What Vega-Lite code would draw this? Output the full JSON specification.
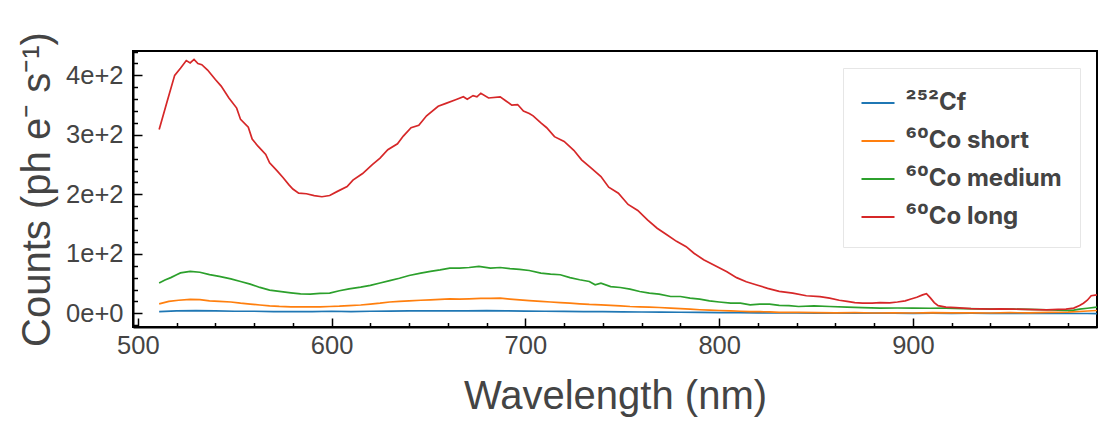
{
  "$schema": "https://vega.github.io/schema/vega-lite/v6.json",
  "width": 964,
  "height": 276,
  "autosize": {"type": "none"},
  "padding": {"left": 133, "top": 51, "right": 8, "bottom": 98},
  "background": "white",
  "config": {
    "font": "Liberation Sans",
    "view": {"stroke": "#000000", "strokeWidth": 2},
    "axis": {"labelFont": "Liberation Sans", "titleFont": "Liberation Sans", "labelColor": "#444444", "titleColor": "#444444", "titleFontWeight": "normal", "tickColor": "#000000", "domainColor": "#000000", "domainWidth": 2, "tickWidth": 1.5, "grid": false}
  },
  "data": {"values": [
    {"series":"²⁵²Cf","x":511,"y":3},{"series":"²⁵²Cf","x":520,"y":4},{"series":"²⁵²Cf","x":530,"y":4.5},{"series":"²⁵²Cf","x":540,"y":4},{"series":"²⁵²Cf","x":550,"y":3.5},{"series":"²⁵²Cf","x":560,"y":3.5},{"series":"²⁵²Cf","x":570,"y":3},{"series":"²⁵²Cf","x":580,"y":2.8},{"series":"²⁵²Cf","x":590,"y":3},{"series":"²⁵²Cf","x":600,"y":3.5},{"series":"²⁵²Cf","x":610,"y":3},{"series":"²⁵²Cf","x":620,"y":3.5},{"series":"²⁵²Cf","x":630,"y":3.8},{"series":"²⁵²Cf","x":640,"y":4},{"series":"²⁵²Cf","x":650,"y":4},{"series":"²⁵²Cf","x":660,"y":4},{"series":"²⁵²Cf","x":670,"y":4.2},{"series":"²⁵²Cf","x":680,"y":4.5},{"series":"²⁵²Cf","x":690,"y":4},{"series":"²⁵²Cf","x":700,"y":3.8},{"series":"²⁵²Cf","x":710,"y":3.5},{"series":"²⁵²Cf","x":720,"y":3.2},{"series":"²⁵²Cf","x":730,"y":3},{"series":"²⁵²Cf","x":740,"y":2.8},{"series":"²⁵²Cf","x":750,"y":2.5},{"series":"²⁵²Cf","x":760,"y":2.2},{"series":"²⁵²Cf","x":770,"y":2},{"series":"²⁵²Cf","x":780,"y":1.8},{"series":"²⁵²Cf","x":790,"y":1.5},{"series":"²⁵²Cf","x":800,"y":1.3},{"series":"²⁵²Cf","x":810,"y":1},{"series":"²⁵²Cf","x":820,"y":0.8},{"series":"²⁵²Cf","x":830,"y":0.5},{"series":"²⁵²Cf","x":840,"y":0.5},{"series":"²⁵²Cf","x":850,"y":0.3},{"series":"²⁵²Cf","x":860,"y":0.3},{"series":"²⁵²Cf","x":870,"y":0.2},{"series":"²⁵²Cf","x":880,"y":0.3},{"series":"²⁵²Cf","x":890,"y":0.2},{"series":"²⁵²Cf","x":900,"y":0},{"series":"²⁵²Cf","x":910,"y":0.2},{"series":"²⁵²Cf","x":920,"y":0},{"series":"²⁵²Cf","x":930,"y":0.1},{"series":"²⁵²Cf","x":940,"y":0},{"series":"²⁵²Cf","x":950,"y":0},{"series":"²⁵²Cf","x":960,"y":-0.2},{"series":"²⁵²Cf","x":970,"y":0},{"series":"²⁵²Cf","x":980,"y":-0.3},{"series":"²⁵²Cf","x":990,"y":-0.3},{"series":"²⁵²Cf","x":995,"y":-0.5},
    {"series":"⁶⁰Co short","x":511,"y":16},{"series":"⁶⁰Co short","x":516,"y":20},{"series":"⁶⁰Co short","x":521,"y":22},{"series":"⁶⁰Co short","x":527,"y":23.5},{"series":"⁶⁰Co short","x":532,"y":23},{"series":"⁶⁰Co short","x":537,"y":21},{"series":"⁶⁰Co short","x":542,"y":20},{"series":"⁶⁰Co short","x":548,"y":19},{"series":"⁶⁰Co short","x":553,"y":17},{"series":"⁶⁰Co short","x":558,"y":15.5},{"series":"⁶⁰Co short","x":563,"y":14},{"series":"⁶⁰Co short","x":568,"y":12.6},{"series":"⁶⁰Co short","x":573,"y":11.6},{"series":"⁶⁰Co short","x":579,"y":11},{"series":"⁶⁰Co short","x":584,"y":10.8},{"series":"⁶⁰Co short","x":589,"y":11},{"series":"⁶⁰Co short","x":594,"y":11},{"series":"⁶⁰Co short","x":599,"y":11.5},{"series":"⁶⁰Co short","x":604,"y":12},{"series":"⁶⁰Co short","x":609,"y":13},{"series":"⁶⁰Co short","x":615,"y":14},{"series":"⁶⁰Co short","x":620,"y":15.5},{"series":"⁶⁰Co short","x":625,"y":17},{"series":"⁶⁰Co short","x":630,"y":19},{"series":"⁶⁰Co short","x":635,"y":20},{"series":"⁶⁰Co short","x":640,"y":21},{"series":"⁶⁰Co short","x":646,"y":22},{"series":"⁶⁰Co short","x":651,"y":22.7},{"series":"⁶⁰Co short","x":656,"y":23.5},{"series":"⁶⁰Co short","x":661,"y":24.4},{"series":"⁶⁰Co short","x":666,"y":24},{"series":"⁶⁰Co short","x":671,"y":24.4},{"series":"⁶⁰Co short","x":677,"y":25},{"series":"⁶⁰Co short","x":682,"y":25},{"series":"⁶⁰Co short","x":687,"y":25.6},{"series":"⁶⁰Co short","x":692,"y":24},{"series":"⁶⁰Co short","x":697,"y":22.7},{"series":"⁶⁰Co short","x":702,"y":21.5},{"series":"⁶⁰Co short","x":708,"y":20},{"series":"⁶⁰Co short","x":713,"y":19},{"series":"⁶⁰Co short","x":718,"y":18},{"series":"⁶⁰Co short","x":723,"y":17},{"series":"⁶⁰Co short","x":728,"y":16},{"series":"⁶⁰Co short","x":733,"y":15},{"series":"⁶⁰Co short","x":739,"y":14.3},{"series":"⁶⁰Co short","x":744,"y":13.5},{"series":"⁶⁰Co short","x":749,"y":12.5},{"series":"⁶⁰Co short","x":754,"y":11.5},{"series":"⁶⁰Co short","x":759,"y":11},{"series":"⁶⁰Co short","x":764,"y":10.5},{"series":"⁶⁰Co short","x":769,"y":9.8},{"series":"⁶⁰Co short","x":775,"y":8.7},{"series":"⁶⁰Co short","x":780,"y":7.8},{"series":"⁶⁰Co short","x":785,"y":7},{"series":"⁶⁰Co short","x":790,"y":6},{"series":"⁶⁰Co short","x":795,"y":5.3},{"series":"⁶⁰Co short","x":800,"y":4.7},{"series":"⁶⁰Co short","x":806,"y":4},{"series":"⁶⁰Co short","x":811,"y":3.5},{"series":"⁶⁰Co short","x":816,"y":3},{"series":"⁶⁰Co short","x":821,"y":2.7},{"series":"⁶⁰Co short","x":826,"y":2.3},{"series":"⁶⁰Co short","x":831,"y":1.5},{"series":"⁶⁰Co short","x":841,"y":1.5},{"series":"⁶⁰Co short","x":850,"y":1},{"series":"⁶⁰Co short","x":860,"y":0.8},{"series":"⁶⁰Co short","x":870,"y":1},{"series":"⁶⁰Co short","x":880,"y":0.5},{"series":"⁶⁰Co short","x":890,"y":0.8},{"series":"⁶⁰Co short","x":900,"y":0.5},{"series":"⁶⁰Co short","x":910,"y":1},{"series":"⁶⁰Co short","x":920,"y":0.6},{"series":"⁶⁰Co short","x":930,"y":0.8},{"series":"⁶⁰Co short","x":940,"y":0.5},{"series":"⁶⁰Co short","x":950,"y":1},{"series":"⁶⁰Co short","x":960,"y":0.8},{"series":"⁶⁰Co short","x":970,"y":1.5},{"series":"⁶⁰Co short","x":980,"y":2},{"series":"⁶⁰Co short","x":988,"y":3.5},{"series":"⁶⁰Co short","x":995,"y":4.7},
    {"series":"⁶⁰Co medium","x":511,"y":51},{"series":"⁶⁰Co medium","x":514,"y":56},{"series":"⁶⁰Co medium","x":517,"y":60},{"series":"⁶⁰Co medium","x":520,"y":65},{"series":"⁶⁰Co medium","x":522,"y":68},{"series":"⁶⁰Co medium","x":527,"y":70.4},{"series":"⁶⁰Co medium","x":532,"y":69},{"series":"⁶⁰Co medium","x":537,"y":65},{"series":"⁶⁰Co medium","x":542,"y":62},{"series":"⁶⁰Co medium","x":548,"y":58},{"series":"⁶⁰Co medium","x":553,"y":53.5},{"series":"⁶⁰Co medium","x":558,"y":49},{"series":"⁶⁰Co medium","x":563,"y":43.5},{"series":"⁶⁰Co medium","x":568,"y":39},{"series":"⁶⁰Co medium","x":573,"y":36.8},{"series":"⁶⁰Co medium","x":579,"y":34.5},{"series":"⁶⁰Co medium","x":584,"y":32.8},{"series":"⁶⁰Co medium","x":589,"y":32.3},{"series":"⁶⁰Co medium","x":594,"y":33.4},{"series":"⁶⁰Co medium","x":599,"y":34},{"series":"⁶⁰Co medium","x":604,"y":38},{"series":"⁶⁰Co medium","x":609,"y":41},{"series":"⁶⁰Co medium","x":615,"y":44},{"series":"⁶⁰Co medium","x":620,"y":47},{"series":"⁶⁰Co medium","x":625,"y":51},{"series":"⁶⁰Co medium","x":630,"y":55},{"series":"⁶⁰Co medium","x":635,"y":59},{"series":"⁶⁰Co medium","x":640,"y":63.6},{"series":"⁶⁰Co medium","x":646,"y":67.6},{"series":"⁶⁰Co medium","x":651,"y":70.4},{"series":"⁶⁰Co medium","x":656,"y":73},{"series":"⁶⁰Co medium","x":661,"y":76},{"series":"⁶⁰Co medium","x":666,"y":76},{"series":"⁶⁰Co medium","x":671,"y":77},{"series":"⁶⁰Co medium","x":676,"y":79},{"series":"⁶⁰Co medium","x":682,"y":76},{"series":"⁶⁰Co medium","x":687,"y":77},{"series":"⁶⁰Co medium","x":692,"y":75},{"series":"⁶⁰Co medium","x":697,"y":74},{"series":"⁶⁰Co medium","x":702,"y":72},{"series":"⁶⁰Co medium","x":708,"y":67.6},{"series":"⁶⁰Co medium","x":713,"y":66},{"series":"⁶⁰Co medium","x":718,"y":64.8},{"series":"⁶⁰Co medium","x":723,"y":60},{"series":"⁶⁰Co medium","x":728,"y":56.4},{"series":"⁶⁰Co medium","x":733,"y":53.5},{"series":"⁶⁰Co medium","x":736,"y":48},{"series":"⁶⁰Co medium","x":739,"y":50.8},{"series":"⁶⁰Co medium","x":744,"y":45},{"series":"⁶⁰Co medium","x":749,"y":43.4},{"series":"⁶⁰Co medium","x":754,"y":40.7},{"series":"⁶⁰Co medium","x":759,"y":36.7},{"series":"⁶⁰Co medium","x":764,"y":34},{"series":"⁶⁰Co medium","x":769,"y":32.3},{"series":"⁶⁰Co medium","x":775,"y":28.3},{"series":"⁶⁰Co medium","x":780,"y":28.3},{"series":"⁶⁰Co medium","x":785,"y":25.6},{"series":"⁶⁰Co medium","x":790,"y":24},{"series":"⁶⁰Co medium","x":795,"y":21},{"series":"⁶⁰Co medium","x":800,"y":19},{"series":"⁶⁰Co medium","x":806,"y":17},{"series":"⁶⁰Co medium","x":811,"y":17},{"series":"⁶⁰Co medium","x":816,"y":14.3},{"series":"⁶⁰Co medium","x":821,"y":15.5},{"series":"⁶⁰Co medium","x":826,"y":15.5},{"series":"⁶⁰Co medium","x":831,"y":13.5},{"series":"⁶⁰Co medium","x":836,"y":13},{"series":"⁶⁰Co medium","x":841,"y":11.5},{"series":"⁶⁰Co medium","x":849,"y":12.6},{"series":"⁶⁰Co medium","x":857,"y":11.5},{"series":"⁶⁰Co medium","x":866,"y":10.4},{"series":"⁶⁰Co medium","x":874,"y":9.5},{"series":"⁶⁰Co medium","x":883,"y":8.7},{"series":"⁶⁰Co medium","x":892,"y":8.9},{"series":"⁶⁰Co medium","x":900,"y":8.7},{"series":"⁶⁰Co medium","x":909,"y":8.5},{"series":"⁶⁰Co medium","x":917,"y":8.7},{"series":"⁶⁰Co medium","x":926,"y":8},{"series":"⁶⁰Co medium","x":935,"y":7.6},{"series":"⁶⁰Co medium","x":943,"y":7.3},{"series":"⁶⁰Co medium","x":952,"y":7},{"series":"⁶⁰Co medium","x":960,"y":6.5},{"series":"⁶⁰Co medium","x":969,"y":6},{"series":"⁶⁰Co medium","x":975,"y":5.5},{"series":"⁶⁰Co medium","x":979,"y":4.7},{"series":"⁶⁰Co medium","x":983,"y":5.5},{"series":"⁶⁰Co medium","x":986,"y":7},{"series":"⁶⁰Co medium","x":990,"y":8.5},{"series":"⁶⁰Co medium","x":995,"y":10.4},
    {"series":"⁶⁰Co long","x":511,"y":309},{"series":"⁶⁰Co long","x":515,"y":355},{"series":"⁶⁰Co long","x":519,"y":400},{"series":"⁶⁰Co long","x":522,"y":412},{"series":"⁶⁰Co long","x":525,"y":425},{"series":"⁶⁰Co long","x":527,"y":421},{"series":"⁶⁰Co long","x":529,"y":427},{"series":"⁶⁰Co long","x":531,"y":420},{"series":"⁶⁰Co long","x":533,"y":418},{"series":"⁶⁰Co long","x":536,"y":409},{"series":"⁶⁰Co long","x":540,"y":393},{"series":"⁶⁰Co long","x":543,"y":382},{"series":"⁶⁰Co long","x":547,"y":362},{"series":"⁶⁰Co long","x":551,"y":345},{"series":"⁶⁰Co long","x":553,"y":326},{"series":"⁶⁰Co long","x":557,"y":313},{"series":"⁶⁰Co long","x":559,"y":293},{"series":"⁶⁰Co long","x":562,"y":281},{"series":"⁶⁰Co long","x":566,"y":267},{"series":"⁶⁰Co long","x":568,"y":253},{"series":"⁶⁰Co long","x":572,"y":239},{"series":"⁶⁰Co long","x":575,"y":228},{"series":"⁶⁰Co long","x":578,"y":216},{"series":"⁶⁰Co long","x":580,"y":209},{"series":"⁶⁰Co long","x":583,"y":202},{"series":"⁶⁰Co long","x":587,"y":201},{"series":"⁶⁰Co long","x":591,"y":198},{"series":"⁶⁰Co long","x":595,"y":196},{"series":"⁶⁰Co long","x":599,"y":198},{"series":"⁶⁰Co long","x":603,"y":205},{"series":"⁶⁰Co long","x":608,"y":213},{"series":"⁶⁰Co long","x":611,"y":224},{"series":"⁶⁰Co long","x":616,"y":235},{"series":"⁶⁰Co long","x":621,"y":250},{"series":"⁶⁰Co long","x":625,"y":261},{"series":"⁶⁰Co long","x":629,"y":275},{"series":"⁶⁰Co long","x":634,"y":285},{"series":"⁶⁰Co long","x":637,"y":298},{"series":"⁶⁰Co long","x":641,"y":312},{"series":"⁶⁰Co long","x":645,"y":316},{"series":"⁶⁰Co long","x":649,"y":332},{"series":"⁶⁰Co long","x":655,"y":348},{"series":"⁶⁰Co long","x":659,"y":353},{"series":"⁶⁰Co long","x":664,"y":359},{"series":"⁶⁰Co long","x":668,"y":364},{"series":"⁶⁰Co long","x":670,"y":360},{"series":"⁶⁰Co long","x":673,"y":366},{"series":"⁶⁰Co long","x":675,"y":364},{"series":"⁶⁰Co long","x":677,"y":370},{"series":"⁶⁰Co long","x":681,"y":362},{"series":"⁶⁰Co long","x":687,"y":364},{"series":"⁶⁰Co long","x":690,"y":357},{"series":"⁶⁰Co long","x":693,"y":350},{"series":"⁶⁰Co long","x":696,"y":351},{"series":"⁶⁰Co long","x":699,"y":340},{"series":"⁶⁰Co long","x":702,"y":336},{"series":"⁶⁰Co long","x":704,"y":332},{"series":"⁶⁰Co long","x":708,"y":320},{"series":"⁶⁰Co long","x":711,"y":312},{"series":"⁶⁰Co long","x":715,"y":297},{"series":"⁶⁰Co long","x":720,"y":289},{"series":"⁶⁰Co long","x":725,"y":274},{"series":"⁶⁰Co long","x":729,"y":258},{"series":"⁶⁰Co long","x":734,"y":244},{"series":"⁶⁰Co long","x":739,"y":230},{"series":"⁶⁰Co long","x":743,"y":212},{"series":"⁶⁰Co long","x":748,"y":202},{"series":"⁶⁰Co long","x":753,"y":183},{"series":"⁶⁰Co long","x":758,"y":173},{"series":"⁶⁰Co long","x":763,"y":157},{"series":"⁶⁰Co long","x":768,"y":143},{"series":"⁶⁰Co long","x":773,"y":132},{"series":"⁶⁰Co long","x":778,"y":121},{"series":"⁶⁰Co long","x":783,"y":112},{"series":"⁶⁰Co long","x":787,"y":101},{"series":"⁶⁰Co long","x":792,"y":90},{"series":"⁶⁰Co long","x":798,"y":80},{"series":"⁶⁰Co long","x":804,"y":70},{"series":"⁶⁰Co long","x":809,"y":60},{"series":"⁶⁰Co long","x":814,"y":53},{"series":"⁶⁰Co long","x":819,"y":48},{"series":"⁶⁰Co long","x":825,"y":42},{"series":"⁶⁰Co long","x":831,"y":37},{"series":"⁶⁰Co long","x":838,"y":34},{"series":"⁶⁰Co long","x":845,"y":29.5},{"series":"⁶⁰Co long","x":852,"y":28},{"series":"⁶⁰Co long","x":857,"y":25.6},{"series":"⁶⁰Co long","x":862,"y":22},{"series":"⁶⁰Co long","x":866,"y":20},{"series":"⁶⁰Co long","x":870,"y":18},{"series":"⁶⁰Co long","x":874,"y":17},{"series":"⁶⁰Co long","x":879,"y":17},{"series":"⁶⁰Co long","x":883,"y":18},{"series":"⁶⁰Co long","x":888,"y":17.5},{"series":"⁶⁰Co long","x":892,"y":19},{"series":"⁶⁰Co long","x":896,"y":21},{"series":"⁶⁰Co long","x":899,"y":24},{"series":"⁶⁰Co long","x":902,"y":27},{"series":"⁶⁰Co long","x":905,"y":31},{"series":"⁶⁰Co long","x":907,"y":33},{"series":"⁶⁰Co long","x":909,"y":26},{"series":"⁶⁰Co long","x":911,"y":18},{"series":"⁶⁰Co long","x":913,"y":13},{"series":"⁶⁰Co long","x":917,"y":10.5},{"series":"⁶⁰Co long","x":922,"y":9.5},{"series":"⁶⁰Co long","x":926,"y":8.7},{"series":"⁶⁰Co long","x":930,"y":8},{"series":"⁶⁰Co long","x":935,"y":7.6},{"series":"⁶⁰Co long","x":940,"y":7.2},{"series":"⁶⁰Co long","x":945,"y":7.4},{"series":"⁶⁰Co long","x":952,"y":7},{"series":"⁶⁰Co long","x":958,"y":6.5},{"series":"⁶⁰Co long","x":963,"y":6.2},{"series":"⁶⁰Co long","x":969,"y":5.9},{"series":"⁶⁰Co long","x":975,"y":6.5},{"series":"⁶⁰Co long","x":979,"y":7},{"series":"⁶⁰Co long","x":983,"y":8.7},{"series":"⁶⁰Co long","x":986,"y":13},{"series":"⁶⁰Co long","x":988,"y":17},{"series":"⁶⁰Co long","x":990,"y":22},{"series":"⁶⁰Co long","x":992,"y":29.5},{"series":"⁶⁰Co long","x":995,"y":31}
  ]},
  "mark": {"type": "line", "strokeWidth": 1.7, "clip": true},
  "encoding": {
    "x": {
      "field": "x", "type": "quantitative",
      "scale": {"domain": [497.5, 995], "nice": false, "zero": false},
      "axis": {
        "title": "Wavelength (nm)", "titleFontSize": 40, "titlePadding": 13,
        "values": [500,520,540,560,580,600,620,640,660,680,700,720,740,760,780,800,820,840,860,880,900,920,940,960,980],
        "labelExpr": "datum.value % 100 === 0 ? datum.label : ''",
        "format": "d",
        "labelFontSize": 25.5, "labelPadding": 15, "labelFlush": false, "labelOverlap": false,
        "tickSize": {"condition": {"test": "datum.value % 100 === 0", "value": -9}, "value": -4.5}
      }
    },
    "y": {
      "field": "y", "type": "quantitative",
      "scale": {"domain": [-23, 441], "nice": false, "zero": false},
      "axis": {
        "title": "Counts (ph e⁻ s⁻¹)", "titleFontSize": 40, "titlePadding": 8,
        "values": [-20,0,20,40,60,80,100,120,140,160,180,200,220,240,260,280,300,320,340,360,380,400,420,440],
        "labelExpr": "datum.value % 100 === 0 ? (datum.value === 0 ? '0e+0' : (datum.value / 100) + 'e+2') : ''",
        "labelFontSize": 25.5, "labelPadding": 19, "labelOverlap": false, "labelFlush": false,
        "tickSize": {"condition": {"test": "datum.value % 100 === 0", "value": -9}, "value": -4.5}
      }
    },
    "color": {
      "field": "series", "type": "nominal",
      "scale": {"domain": ["²⁵²Cf", "⁶⁰Co short", "⁶⁰Co medium", "⁶⁰Co long"], "range": ["#1f77b4", "#ff7f0e", "#2ca02c", "#d62728"]},
      "legend": {
        "title": null, "orient": "top-right", "offset": 17,
        "fillColor": "white", "strokeColor": "#e6e6e6", "padding": 17.5,
        "labelFont": "Inter", "labelFontSize": 24, "labelFontWeight": "bold", "labelColor": "#444444",
        "symbolType": "stroke", "symbolSize": 1089, "symbolStrokeWidth": 2, "rowPadding": 8, "labelOffset": 10
      }
    }
  }
}
